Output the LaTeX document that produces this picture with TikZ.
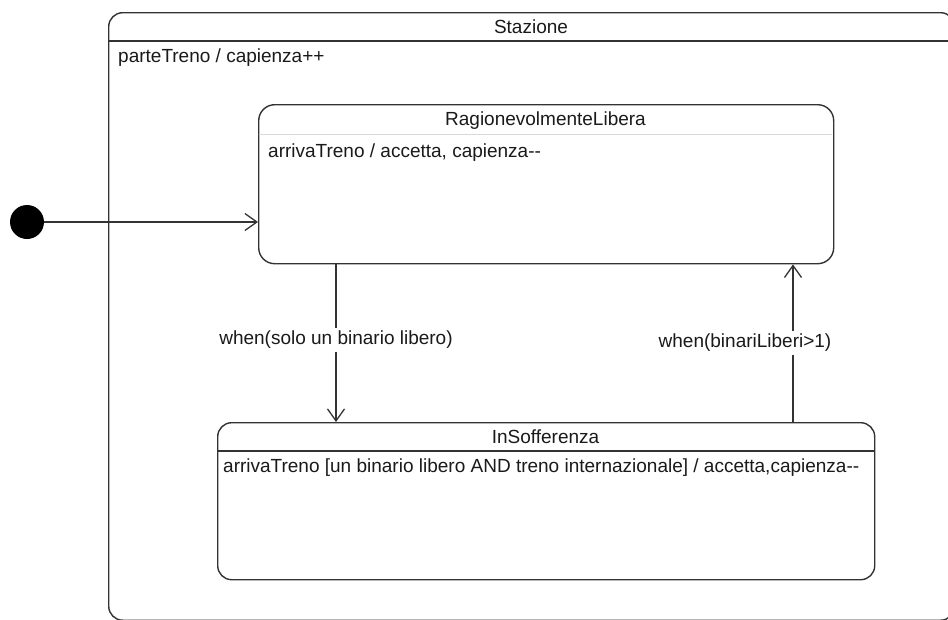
\documentclass[tikz,border=0pt]{standalone}
\usepackage{fontspec}
\setmainfont{Liberation Sans}
\usetikzlibrary{arrows.meta}
\definecolor{ln}{HTML}{333333}
\definecolor{tx}{HTML}{1A1A1A}
\begin{document}
\begin{tikzpicture}[x=1pt,y=-1pt,
  every node/.style={font=\fontsize{19}{22}\selectfont, text=tx},
  box/.style={draw=ln, line width=1.4pt, inner sep=0pt, anchor=north west},
  txt/.style={inner sep=0pt},
  arr/.style={draw=ln, line width=1.3pt, -{Straight Barb[length=12pt,width=17pt]}},
  lbl/.style={fill=white, inner sep=3pt}]
\useasboundingbox (0,0) rectangle (948,619);
\fill[white] (0,0) rectangle (948,619);
% outer composite state
\begin{scope}
\clip (0,0) rectangle (948,619);
\node[box, rounded corners=14pt, minimum width=846pt, minimum height=607.5pt] (st) at (108,12) {};
\draw[ln, line width=1.4pt] (108,41) -- (954,41);
\end{scope}
\node[txt, anchor=base] (stT) at (531,33) {Stazione};
\node[txt, anchor=base west] (stB) at (118,62) {parteTreno / capienza++};
% RagionevolmenteLibera
\node[box, rounded corners=16pt, minimum width=575pt, minimum height=159pt] (rl) at (258,104) {};
\draw[line width=0.8pt, color=black!15] (258.7,134) -- (832.3,134);
\node[txt, anchor=base] (rlT) at (545.5,125) {RagionevolmenteLibera};
\node[txt, anchor=base west] (rlB) at (268,157) {arrivaTreno / accetta, capienza-{}-};
% InSofferenza
\node[box, rounded corners=14pt, minimum width=657pt, minimum height=157pt] (is) at (217,422) {};
\draw[ln, line width=1.4pt] (217,451) -- (874,451);
\node[txt, anchor=base] (isT) at (545.5,443) {InSofferenza};
\node[txt, anchor=base west] (isB) at (223,472) {arrivaTreno [un binario libero AND treno internazionale] / accetta,capienza-{}-};
% initial state
\node[circle, fill=black, minimum size=34pt, inner sep=0pt] (init) at (27,222) {};
\draw[arr] (init) -- (rl.west |- init);
% transitions
\coordinate (d1) at (336,0);
\coordinate (u1) at (793,0);
\draw[arr] (d1 |- rl.south) -- node[lbl, pos=0.48] (l1) {when(solo un binario libero)} (d1 |- is.north);
\draw[arr] (u1 |- is.north) -- (u1 |- rl.south);
\node[lbl] (l2) at (745,343) {when(binariLiberi>1)};
\end{tikzpicture}
\end{document}
